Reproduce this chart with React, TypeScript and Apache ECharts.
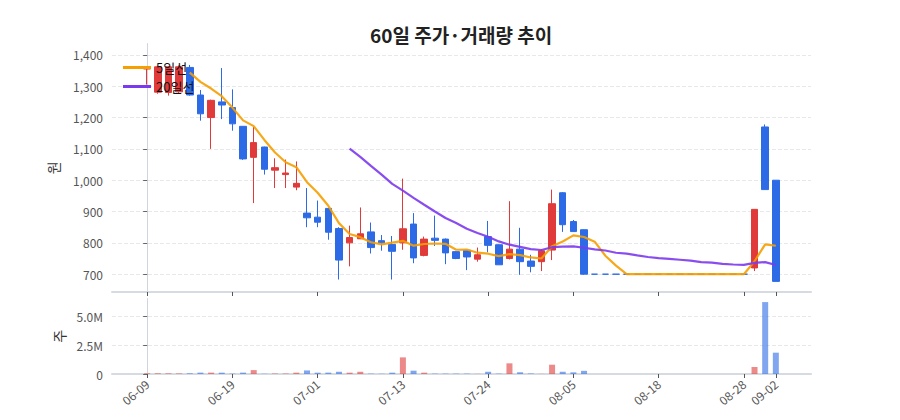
import React, { useEffect, useRef } from "react";
import * as echarts from "echarts";

const DATES = [
    "06-09", "06-10", "06-11", "06-12", "06-15", "06-16", "06-17", "06-18", "06-19", "06-22",
    "06-23", "06-24", "06-25", "06-26", "06-29", "06-30", "07-01", "07-02", "07-03", "07-06",
    "07-07", "07-08", "07-09", "07-10", "07-13", "07-14", "07-15", "07-16", "07-20", "07-21",
    "07-22", "07-23", "07-24", "07-27", "07-28", "07-29", "07-30", "07-31", "08-03", "08-04",
    "08-05", "08-06", "08-07", "08-10", "08-11", "08-12", "08-13", "08-14", "08-18", "08-19",
    "08-20", "08-21", "08-24", "08-25", "08-26", "08-27", "08-28", "08-31", "09-01", "09-02",
];

const OPEN = [
    1355, 1281, 1280, 1282, 1360, 1272, 1200, 1250, 1232, 1172,
    1073, 1106, 1032, 1018, 978, 895, 882, 910, 846, 800,
    813, 835, 807, 795, 800, 860, 760, 815, 812, 772,
    776, 748, 820, 794, 750, 780, 742, 740, 777, 960,
    868, 842, 700, 700, 700, 700, 700, 700, 700, 700,
    700, 700, 700, 700, 700, 700, 700, 720, 1170, 1000,
];
const CLOSE = [
    1360, 1362, 1362, 1362, 1272, 1212, 1255, 1240, 1180, 1068,
    1120, 1035, 1040, 1023, 990, 880, 866, 834, 745, 817,
    829, 785, 800, 773, 845, 752, 812, 808, 768, 750,
    755, 762, 792, 730, 780, 740, 725, 775, 925, 858,
    836, 700, 700, 700, 700, 700, 700, 700, 700, 700,
    700, 700, 700, 700, 700, 700, 700, 907, 970, 677,
];
const LOW = [
    1305, 1276, 1270, 1278, 1270, 1190, 1100, 1195, 1158, 1065,
    927, 1018, 975, 975, 968, 850, 850, 810, 683, 725,
    812, 766, 775, 683, 778, 735, 757, 790, 732, 748,
    713, 740, 770, 730, 747, 698, 706, 710, 745, 835,
    835, 698, 700, 700, 700, 700, 700, 700, 700, 700,
    700, 700, 700, 700, 700, 700, 700, 710, 970, 677,
];
const HIGH = [
    1362, 1364, 1364, 1366, 1368, 1288, 1257, 1358, 1290, 1172,
    1170, 1107, 1070, 1066, 1060, 975, 935, 912, 850, 855,
    913, 865, 825, 822, 1005, 895, 820, 887, 814, 773,
    778, 785, 870, 795, 933, 848, 762, 780, 970, 962,
    873, 843, 700, 700, 700, 700, 700, 700, 700, 700,
    700, 700, 700, 700, 700, 700, 700, 908, 1178, 1000,
];
const VOLUME = [
    60000, 60000, 55000, 50000, 60000, 120000, 120000, 115000, 30000, 120000,
    340000, 20000, 40000, 40000, 115000, 310000, 115000, 120000, 195000, 115000,
    195000, 30000, 20000, 115000, 1450000, 290000, 115000, 30000, 30000, 30000,
    30000, 10000, 195000, 30000, 930000, 145000, 45000, 10000, 810000, 195000,
    145000, 275000, 0, 0, 0, 0, 0, 0, 0, 0,
    0, 0, 0, 0, 0, 0, 0, 610000, 6270000, 1860000,
];

const DATE_TICKS = [0, 8, 16, 24, 32, 40, 48, 56, 59];
const PRICE_TICKS = [700, 800, 900, 1000, 1100, 1200, 1300, 1400];
const VOLUME_TICKS = [0, 2500000, 5000000];

const UP = "#e03a3a";
const DOWN = "#2d6be6";
const UP_LIGHT = "rgba(224,58,58,0.6)";
const DOWN_LIGHT = "rgba(45,107,230,0.6)";
const MA5_COLOR = "#f59f00";
const MA20_COLOR = "#7c3aed";
const FONT = "'Noto Sans CJK KR', 'Noto Sans', sans-serif";

function movingAverage(n: number) {
    return CLOSE.map((_, i) => {
        if (i < n - 1) return [i, null];
        let s = 0;
        for (let k = i - n + 1; k <= i; k++) s += CLOSE[k];
        return [i, Math.round((s / n) * 100) / 100];
    });
}

export default function App() {
    const ref = useRef<HTMLDivElement | null>(null);

    useEffect(() => {
        if (!ref.current) return;
        const chart = echarts.init(ref.current, undefined, { renderer: "svg" });

        const candles = DATES.map((_, i) => {
            const item: any = { value: [i, OPEN[i], CLOSE[i], LOW[i], HIGH[i]] };
            if (OPEN[i] === CLOSE[i]) {
                item.itemStyle = {
                    color: DOWN, color0: DOWN, borderColor: DOWN, borderColor0: DOWN, borderColorDoji: DOWN,
                };
            }
            return item;
        });

        const volumes = DATES.map((_, i) => ({
            value: [i, VOLUME[i]],
            itemStyle: { color: CLOSE[i] > OPEN[i] ? UP_LIGHT : DOWN_LIGHT },
        }));

        const xCommon = {
            type: "value" as const,
            min: -3.3,
            max: 62.3,
            axisLine: { lineStyle: { color: "#d6dbe2", width: 2 } },
            axisTick: { customValues: DATE_TICKS, length: 4, lineStyle: { color: "#555" } },
            splitLine: { show: false },
        };

        const option: any = {
            animation: false,
            textStyle: { fontFamily: FONT },
            title: {
                text: "60일 주가·거래량 추이",
                left: 357,
                top: 12,
                textStyle: { fontSize: 19, fontWeight: "bold", color: "#222", fontFamily: FONT },
            },
            legend: {
                orient: "vertical",
                left: 110,
                top: 48,
                itemWidth: 28,
                itemHeight: 3,
                itemGap: 6,
                textStyle: { fontSize: 13, color: "#111", fontFamily: FONT },
                data: [
                    { name: "5일선", icon: "rect", itemStyle: { color: MA5_COLOR } },
                    { name: "20일선", icon: "rect", itemStyle: { color: MA20_COLOR } },
                ],
            },
            grid: [
                { left: 104, width: 699, top: 35.5, height: 248.5 },
                { left: 104, width: 699, top: 290.5, height: 75.5 },
            ],
            xAxis: [
                { ...xCommon, gridIndex: 0, axisLabel: { show: false } },
                {
                    ...xCommon,
                    gridIndex: 1,
                    axisLabel: {
                        customValues: DATE_TICKS,
                        formatter: (v: number) => DATES[v] ?? "",
                        rotate: 40,
                        margin: 8,
                        fontSize: 12,
                        color: "#555",
                        fontFamily: FONT,
                    },
                },
            ],
            yAxis: [
                {
                    type: "value",
                    gridIndex: 0,
                    min: (v: any) => v.min * 0.95,
                    max: (v: any) => v.max * 1.05,
                    name: "원",
                    nameLocation: "middle",
                    nameGap: 52,
                    nameTextStyle: { fontSize: 14, color: "#333", fontFamily: FONT },
                    axisLine: { show: true, lineStyle: { color: "#cfd5de" } },
                    axisTick: { show: true, customValues: PRICE_TICKS, length: 4, lineStyle: { color: "#666" } },
                    axisLabel: {
                        customValues: PRICE_TICKS,
                        formatter: (v: number) => v.toLocaleString("en-US"),
                        fontSize: 12,
                        color: "#555",
                        margin: 9,
                        fontFamily: FONT,
                    },
                    splitLine: { show: true, lineStyle: { color: "#e6e8ec", type: "dashed" } },
                },
                {
                    type: "value",
                    gridIndex: 1,
                    min: 0,
                    max: (v: any) => v.max * 1.05,
                    name: "주",
                    nameLocation: "middle",
                    nameGap: 46,
                    nameTextStyle: { fontSize: 14, color: "#333", fontFamily: FONT },
                    axisLine: { show: true, lineStyle: { color: "#cfd5de" } },
                    axisTick: { show: true, customValues: VOLUME_TICKS, length: 4, lineStyle: { color: "#666" } },
                    axisLabel: {
                        customValues: VOLUME_TICKS,
                        formatter: (v: number) => (v === 0 ? "0" : (v / 1000000).toFixed(1) + "M"),
                        fontSize: 12,
                        color: "#555",
                        margin: 9,
                        fontFamily: FONT,
                    },
                    splitLine: { show: true, lineStyle: { color: "#e6e8ec", type: "dashed" } },
                },
            ],
            series: [
                {
                    name: "주가",
                    type: "candlestick",
                    xAxisIndex: 0,
                    yAxisIndex: 0,
                    barWidth: 7,
                    data: candles,
                    itemStyle: {
                        color: UP,
                        color0: DOWN,
                        borderColor: UP,
                        borderColor0: DOWN,
                        borderColorDoji: DOWN,
                        borderWidth: 1,
                    },
                    z: 2,
                },
                {
                    name: "5일선",
                    type: "line",
                    xAxisIndex: 0,
                    yAxisIndex: 0,
                    data: movingAverage(5),
                    symbol: "none",
                    lineStyle: { color: MA5_COLOR, width: 2.2, opacity: 0.9 },
                    itemStyle: { color: MA5_COLOR },
                    z: 3,
                },
                {
                    name: "20일선",
                    type: "line",
                    xAxisIndex: 0,
                    yAxisIndex: 0,
                    data: movingAverage(20),
                    symbol: "none",
                    lineStyle: { color: MA20_COLOR, width: 2.2, opacity: 0.9 },
                    itemStyle: { color: MA20_COLOR },
                    z: 3,
                },
                {
                    name: "거래량",
                    type: "bar",
                    xAxisIndex: 1,
                    yAxisIndex: 1,
                    barWidth: 6,
                    data: volumes,
                },
            ],
        };

        chart.setOption(option);
        return () => chart.dispose();
    }, []);

    return <div ref={ref} style={{ width: "100%", height: 404 }} />;
}
